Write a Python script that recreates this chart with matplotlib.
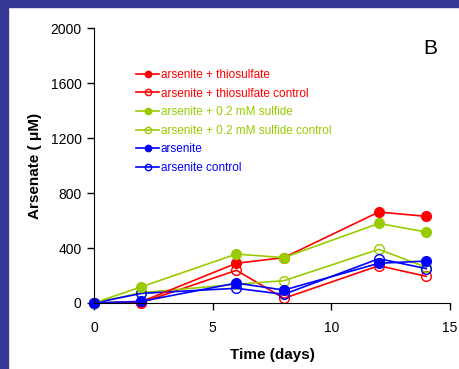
import matplotlib
matplotlib.use("Agg")
import matplotlib.pyplot as plt
from matplotlib.patches import Rectangle

plt.rcParams["font.family"] = ["Liberation Sans", "DejaVu Sans"]

# sampling times (days)
days = [0, 2, 6, 8, 12, 14]

# arsenate (uM)
thio = [0, 10, 289, 330, 662, 630]
thio_ctrl = [0, 3, 238, 34, 271, 194]
sulf = [0, 118, 356, 330, 579, 516]
sulf_ctrl = [0, 75, 136, 162, 390, 260]
ars = [0, 12, 145, 94, 289, 305]
ars_ctrl = [0, 70, 107, 63, 322, 250]

labels = ["arsenite + thiosulfate", "arsenite + thiosulfate control",
          "arsenite + 0.2 mM sulfide", "arsenite + 0.2 mM sulfide control",
          "arsenite", "arsenite control"]
series = [thio, thio_ctrl, sulf, sulf_ctrl, ars, ars_ctrl]
colors = ["#ff0000", "#ff0000", "#99cc00", "#99cc00", "#0000ff", "#0000ff"]
filled = [True, False, True, False, True, False]

fig = plt.figure(figsize=(4.59, 3.69), dpi=100)
# dark blue frame on the left and top
fig.patches.append(Rectangle((0, 0), 8 / 459, 1, transform=fig.transFigure,
                             color="#363896", zorder=0))
fig.patches.append(Rectangle((0, 1 - 7 / 369), 1, 7 / 369, transform=fig.transFigure,
                             color="#363896", zorder=0))

ax = fig.add_axes([94 / 459, 1 - 303 / 369, 356 / 459, 275 / 369])
ax.patch.set_alpha(0)

# draw controls first so filled markers stay on top
order = [1, 3, 5, 0, 2, 4]
handles = {}
for i in order:
    c = colors[i]
    h, = ax.plot(days, series[i], color=c, lw=1.2, marker="o", ms=7,
                 markerfacecolor=c if filled[i] else "none",
                 markeredgecolor=c, mew=1.0, label=labels[i], clip_on=False)
    handles[i] = h

ax.set_xlim(0, 15)
ax.set_ylim(0, 2000)
ax.set_xticks([0, 5, 10, 15])
ax.set_yticks([0, 400, 800, 1200, 1600, 2000])
for s in ["top", "right"]:
    ax.spines[s].set_visible(False)
ax.tick_params(direction="out", length=5, width=1, labelsize=10)
ax.tick_params(axis="x", pad=8)
ax.tick_params(axis="y", pad=4)
ax.set_xlabel("Time (days)", fontsize=11, fontweight="bold", labelpad=9)
ax.set_ylabel("Arsenate ( \u03bcM)", fontsize=11, fontweight="bold", labelpad=6)

leg = ax.legend([handles[i] for i in range(6)], labels, loc="upper left",
                bbox_to_anchor=(136 / 459, 1 - 69 / 369), bbox_transform=fig.transFigure,
                frameon=False, fontsize=8.5, handlelength=1.95, handletextpad=0.15,
                labelspacing=0.56, markerscale=0.65, labelcolor="linecolor",
                borderaxespad=0, borderpad=0)

fig.text(430 / 459, 1 - 48 / 369, "B", fontsize=15, ha="center", va="center")

fig.savefig("out.png", dpi=100)
